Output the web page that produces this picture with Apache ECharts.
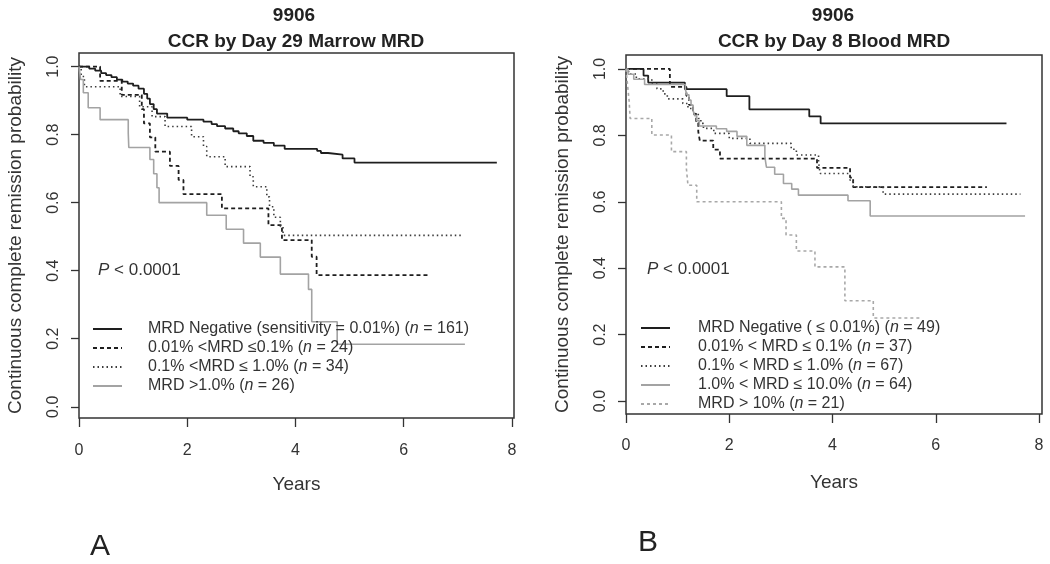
<!DOCTYPE html>
<html><head><meta charset="utf-8">
<script src="https://cdn.jsdelivr.net/npm/echarts@6/dist/echarts.min.js"></script>
<style>html,body{margin:0;padding:0;background:#fff}#c{width:1050px;height:564px}</style>
</head><body><div id="c"></div>
<script>
// ---------- data ----------
const xTicks = [0, 2, 4, 6, 8];
const yTicks = [0, 0.2, 0.4, 0.6, 0.8, 1.0];

const titleA = ['9906', 'CCR by Day 29 Marrow MRD'];
const titleB = ['9906', 'CCR by Day 8 Blood MRD'];
const pText = 'P < 0.0001';
const xName = 'Years';
const yName = 'Continuous complete remission probability';

const namesA = [
  'MRD Negative (sensitivity = 0.01%) (n = 161)',
  '0.01% <MRD \u22640.1% (n = 24)',
  '0.1% <MRD \u2264 1.0% (n = 34)',
  'MRD >1.0% (n = 26)'
];
const namesB = [
  'MRD Negative ( \u2264 0.01%) (n = 49)',
  '0.01% < MRD \u2264 0.1% (n = 37)',
  '0.1% < MRD \u2264 1.0% (n = 67)',
  '1.0% < MRD \u2264 10.0% (n = 64)',
  'MRD > 10% (n = 21)'
];

// Panel A (Day 29 marrow MRD) - Kaplan-Meier steps: time (years), probability
const aNegT = [0,0.19,0.3,0.41,0.5,0.6,0.7,0.8,0.9,1.0,1.1,1.2,1.26,1.31,1.38,1.44,1.63,2.0,2.3,2.45,2.55,2.7,2.85,2.95,3.1,3.22,3.41,3.6,3.8,4.4,4.47,4.6,4.87,5.09,7.72];
const aNegS = [1.0,0.994,0.988,0.981,0.975,0.969,0.962,0.956,0.95,0.944,0.935,0.92,0.906,0.89,0.875,0.862,0.85,0.844,0.838,0.831,0.825,0.818,0.81,0.804,0.796,0.782,0.776,0.768,0.758,0.752,0.746,0.741,0.73,0.718,0.718];
const aLowT = [0,0.39,0.79,1.16,1.2,1.31,1.41,1.68,1.84,1.93,2.64,3.5,3.75,4.3,4.39,6.49];
const aLowS = [1,0.958,0.917,0.875,0.833,0.792,0.75,0.708,0.667,0.625,0.583,0.534,0.49,0.441,0.387,0.387];
const aMidT = [0,0.04,0.1,0.76,1.12,1.35,1.59,2.08,2.3,2.36,2.7,3.16,3.22,3.47,3.52,3.6,3.72,3.77,7.1];
const aMidS = [1,0.971,0.941,0.912,0.882,0.853,0.824,0.794,0.765,0.735,0.706,0.676,0.647,0.617,0.588,0.557,0.53,0.504,0.504];
const aHighT = [0,0.03,0.08,0.17,0.39,0.91,0.92,1.31,1.38,1.44,1.48,2.36,2.72,3.04,3.35,3.72,4.24,4.3,4.77,7.13];
const aHighS = [1,0.962,0.923,0.879,0.844,0.805,0.762,0.727,0.685,0.644,0.6,0.563,0.522,0.481,0.44,0.39,0.345,0.25,0.184,0.184];

// Panel B (Day 8 blood MRD)
const bNegT = [0,0.34,0.43,1.14,1.95,2.39,3.55,3.77,7.37];
const bNegS = [1,0.98,0.959,0.939,0.918,0.878,0.857,0.836,0.836];
const bLowT = [0,0.85,1.17,1.22,1.3,1.36,1.4,1.43,1.69,1.82,3.7,4.34,4.4,6.99];
const bLowS = [1,0.946,0.919,0.892,0.865,0.838,0.811,0.784,0.757,0.73,0.702,0.673,0.644,0.644];
const bMidT = [0,0.05,0.2,0.5,0.6,0.72,0.8,1.1,1.2,1.3,1.4,1.45,1.5,1.7,2.0,2.4,3.2,3.3,3.73,3.76,4.34,4.4,4.98,7.64];
const bMidS = [1,0.985,0.97,0.955,0.94,0.925,0.91,0.896,0.881,0.866,0.851,0.836,0.821,0.806,0.791,0.776,0.758,0.741,0.72,0.685,0.665,0.645,0.623,0.623];
const bHighT = [0,0.04,0.15,0.36,1.15,1.18,1.22,1.26,1.3,1.33,1.37,1.42,1.75,1.95,2.15,2.34,2.69,2.72,2.88,3.05,3.21,3.34,4.3,4.73,7.73];
const bHighS = [1,0.984,0.969,0.953,0.938,0.922,0.906,0.891,0.875,0.859,0.844,0.828,0.82,0.812,0.797,0.77,0.735,0.704,0.683,0.655,0.638,0.62,0.603,0.557,0.557];
const bVhT = [0,0.03,0.06,0.08,0.5,0.88,1.17,1.2,1.37,3.01,3.1,3.3,3.66,4.24,4.79,5.69];
const bVhS = [1,0.952,0.905,0.851,0.801,0.751,0.70,0.65,0.6,0.55,0.5,0.452,0.404,0.302,0.25,0.25];

// ---------- chart ----------
const FONT = '"Liberation Sans", Arial, sans-serif';
const TXT = '#333';
const pairs = (T, S) => T.map((t, i) => [t, S[i]]);

const styles = {
  solidBlack: { color: '#1e1e1e', width: 1.8, type: 'solid' },
  dashBlack: { color: '#1e1e1e', width: 1.8, type: [4, 3] },
  dotBlack: { color: '#3c3c3c', width: 1.6, type: [1.5, 3] },
  solidGray: { color: '#a3a3a3', width: 1.6, type: 'solid' },
  dashGray: { color: '#a8a8a8', width: 1.6, type: [3, 3] }
};

function km(name, T, S, st, idx) {
  return {
    type: 'line', name, data: pairs(T, S), step: 'end',
    xAxisIndex: idx, yAxisIndex: idx,
    symbol: 'none', showSymbol: false,
    lineStyle: st, itemStyle: { color: st.color },
    silent: true, z: 3
  };
}

function xAx(idx, max, margin, gap) {
  return {
    type: 'value', gridIndex: idx, min: 0, max: max,
    axisLine: { show: false, onZero: false },
    axisTick: { show: true, customValues: xTicks, length: 9, inside: false, lineStyle: { color: '#333', width: 1.3 } },
    axisLabel: { customValues: xTicks, margin: margin, fontSize: 16, color: TXT, fontFamily: FONT, formatter: v => String(Math.round(v)) },
    splitLine: { show: false },
    name: xName, nameLocation: 'middle', nameGap: gap,
    nameTextStyle: { fontSize: 19, color: TXT, fontFamily: FONT }
  };
}
function yAx(idx, min, max) {
  return {
    type: 'value', gridIndex: idx, min: min, max: max,
    axisLine: { show: false, onZero: false },
    axisTick: { show: true, customValues: yTicks, length: 8, inside: false, lineStyle: { color: '#333', width: 1.3 } },
    axisLabel: { customValues: yTicks, rotate: 90, margin: 17, fontSize: 16, color: TXT, fontFamily: FONT, formatter: v => v.toFixed(1) },
    splitLine: { show: false },
    name: yName, nameLocation: 'middle', nameGap: 54,
    nameTextStyle: { fontSize: 19, color: TXT, fontFamily: FONT }
  };
}
function legendFmt(name) { return name.replace('(n = ', '({i|n} = '); }
function legend(names, left, top, pad) {
  return {
    data: names, orient: 'vertical', left: left, top: top, padding: 0,
    itemWidth: 29, itemHeight: 14, itemGap: 3, selectedMode: false,
    itemStyle: { color: 'rgba(0,0,0,0)', borderColor: 'rgba(0,0,0,0)', borderWidth: 0, opacity: 0 },
    formatter: legendFmt,
    textStyle: {
      fontSize: 16, color: TXT, fontFamily: FONT, lineHeight: 16, padding: [0, 0, 0, pad],
      rich: { i: { fontStyle: 'italic', fontSize: 16, fontFamily: FONT, color: TXT, lineHeight: 16 } }
    }
  };
}
function txt(x, y, text, size, weight, align) {
  return { type: 'text', x: x, y: y, silent: true,
    style: { text: text, fontSize: size, fontWeight: weight || 'normal', fontFamily: FONT, fill: '#222',
      textAlign: align || 'center', textVerticalAlign: 'middle' } };
}
function ptxt(x, y) {
  return { type: 'text', x: x, y: y, silent: true,
    style: { text: '{p|P}' + pText.slice(1), fontSize: 17, fontFamily: FONT, fill: TXT,
      textAlign: 'left', textVerticalAlign: 'middle',
      rich: { p: { fontStyle: 'italic', fontSize: 17, fontFamily: FONT, fill: TXT } } } };
}

const chart = echarts.init(document.getElementById('c'), null, { renderer: 'canvas' });
chart.setOption({
  animation: false,
  backgroundColor: '#fff',
  grid: [
    { left: 79, top: 53, width: 435, height: 365, show: true, borderColor: '#333', borderWidth: 1.5, backgroundColor: 'transparent' },
    { left: 626, top: 55, width: 416, height: 359, show: true, borderColor: '#333', borderWidth: 1.5, backgroundColor: 'transparent' }
  ],
  xAxis: [xAx(0, 8.037, 25, 57), xAx(1, 8.058, 24, 59)],
  yAxis: [yAx(0, -0.033, 1.04), yAx(1, -0.039, 1.042)],
  legend: [legend(namesA, 92, 321, 21), legend(namesB, 640, 320, 23)],
  series: [
    km(namesA[0], aNegT, aNegS, styles.solidBlack, 0),
    km(namesA[1], aLowT, aLowS, styles.dashBlack, 0),
    km(namesA[2], aMidT, aMidS, styles.dotBlack, 0),
    km(namesA[3], aHighT, aHighS, styles.solidGray, 0),
    km(namesB[0], bNegT, bNegS, styles.solidBlack, 1),
    km(namesB[1], bLowT, bLowS, styles.dashBlack, 1),
    km(namesB[2], bMidT, bMidS, styles.dotBlack, 1),
    km(namesB[3], bHighT, bHighS, styles.solidGray, 1),
    km(namesB[4], bVhT, bVhS, styles.dashGray, 1)
  ],
  graphic: [
    txt(294, 16, titleA[0], 19, 'bold'),
    txt(296, 42, titleA[1], 19, 'bold'),
    txt(833, 16, titleB[0], 19, 'bold'),
    txt(834, 42, titleB[1], 19, 'bold'),
    ptxt(98, 270),
    ptxt(647, 269),
    txt(100, 547, 'A', 30),
    txt(648, 543, 'B', 30)
  ]
});
</script>
</body></html>
